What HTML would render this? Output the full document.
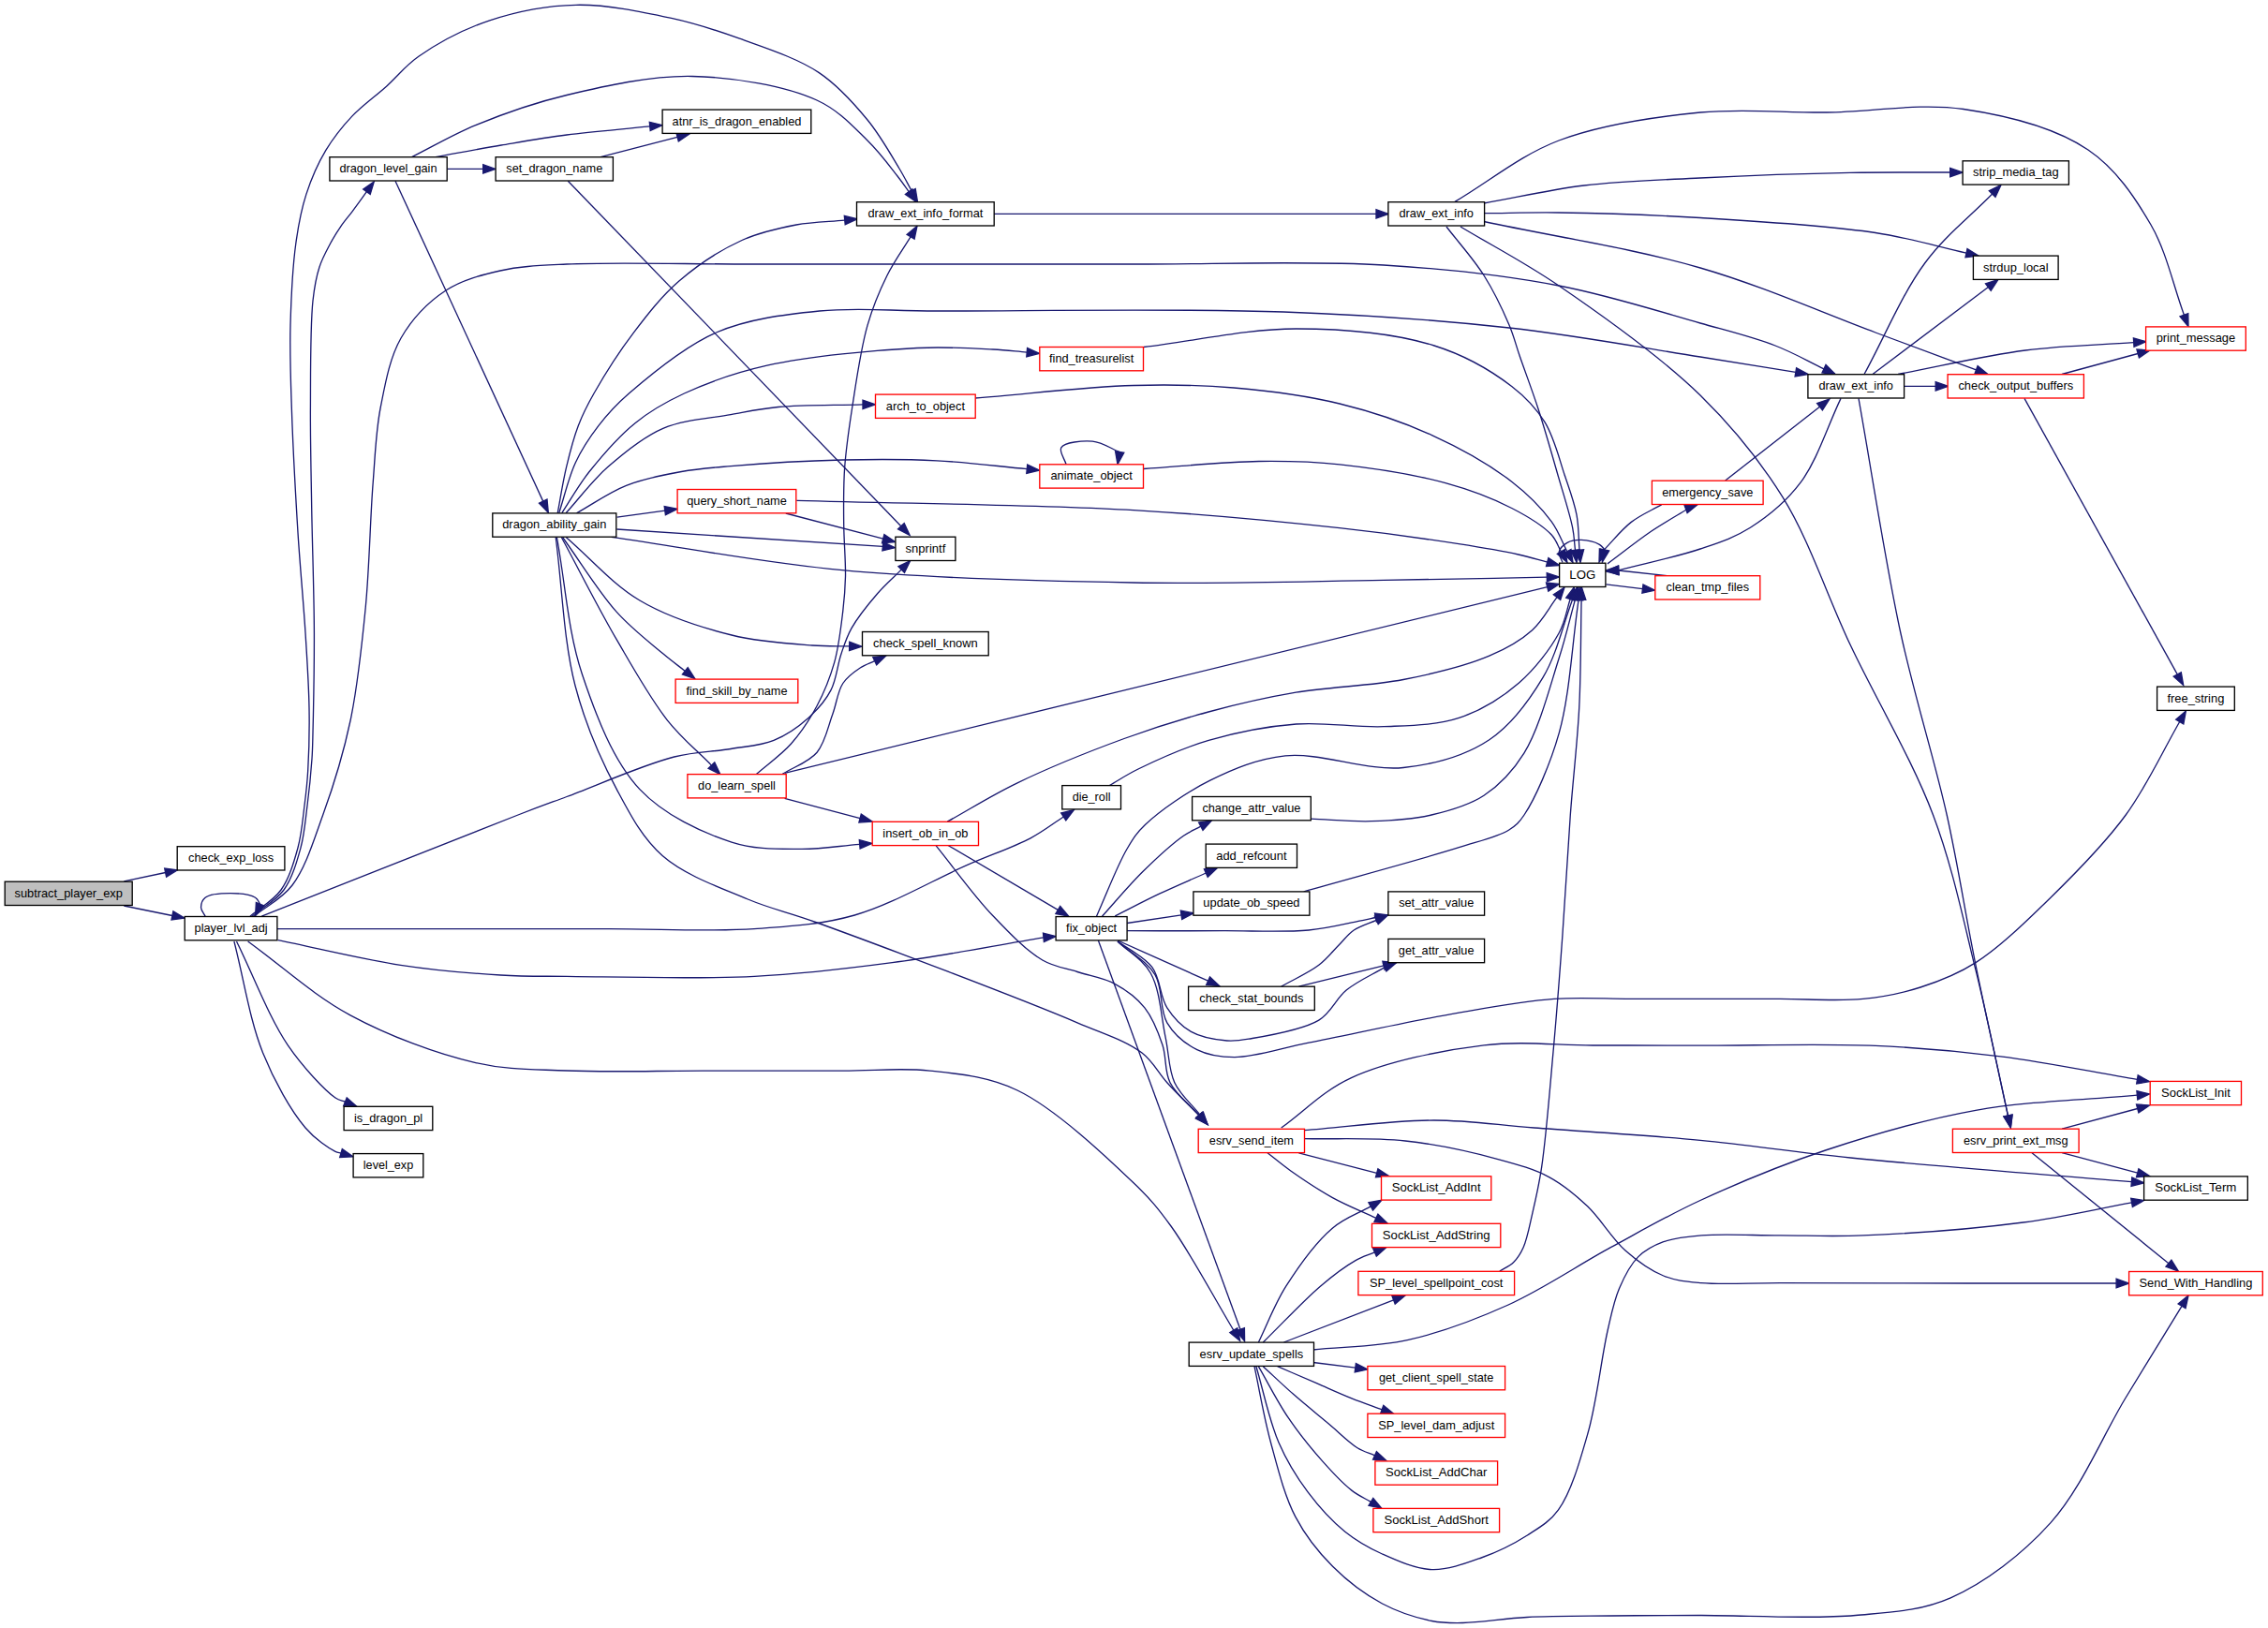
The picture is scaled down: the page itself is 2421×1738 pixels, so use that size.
<!DOCTYPE html>
<html><head><meta charset="utf-8"><title>subtract_player_exp</title>
<style>
html,body{margin:0;padding:0;background:#fff}
body{width:2421px;height:1738px;overflow:hidden}
svg{display:block}
.e path{fill:none;stroke:#191970;stroke-width:1.33}
.e polygon{fill:#191970;stroke:#191970;stroke-width:1.33;stroke-linejoin:miter}
.n rect{stroke-width:1.33}
.n text{font-family:"Liberation Sans",sans-serif;font-size:13.33px;text-anchor:middle;fill:#000}
</style></head><body>
<svg xmlns="http://www.w3.org/2000/svg" width="2421" height="1738" viewBox="0 0 2421 1738">
<rect width="2421" height="1738" fill="#fff"/>
<g class="e">
<path d="M132.3,940.8L176.7,931.5"/><polygon points="189.7,928.8 177.6,936.1 175.7,927"/>
<path d="M132.3,967L183.9,977.5"/><polygon points="197,980.1 183,982 184.9,972.9"/>
<path d="M219.1,978.2C217.6,975.1 214.7,972.1 214.6,968.9C214.5,965.5 215.9,960.8 219.1,958.2C224,954.3 237,953.6 245.9,953.6C254.8,953.6 267.5,955 272.6,958.2C275.5,960 276,962.9 277.7,965.3"/><polygon points="272.6,977.6 273.4,963.5 282,967.1"/>
<path d="M267,978.2C278,968.8 291.6,961.7 300,950C308.9,937.6 313.8,920.2 318,905C322,890.2 323.2,874.3 325,860C326.7,847 327.9,836.8 328.7,822.5C329.8,803.4 330.4,779 330,755.7C329.6,730.2 327.8,704.1 326,675.5C323.9,642.4 320.4,606.2 318,568.6C315.4,526.6 312.6,474.9 311.3,435C310.2,402.6 309.2,376.2 310,347C310.8,317.9 312.3,285.3 315.8,260C318.5,240.2 321.5,224.1 326.9,207.4C332.2,191.1 339.2,174.9 347.7,160.7C355.8,147.2 365.3,135.2 376,123.9C387,112.3 400.8,102.7 412.8,91.9C424.5,81.4 432.6,70.1 447.2,60C466.8,46.4 495.6,30.9 522.7,21.8C551.3,12.3 583.4,5.9 614.9,5.3C647.9,4.6 685.8,12.7 716.7,19.4C743.2,25.2 764.6,32.2 789.5,41.2C817,51.2 850.7,61.8 874.3,77.6C895.2,91.6 911.4,110.2 926,128C939.6,144.5 951.5,165.9 960,180C965.6,189.3 968.7,195.8 973.1,203.7"/><polygon points="979.5,215.4 969,206 977.2,201.5"/>
<path d="M269,978.2C280.3,968.8 294.4,961.8 303,950C312,937.6 316.8,920.2 321,905C325,890.2 326,875.4 328,860C330.1,843.8 332,824.2 333,810C333.7,799.5 333.7,794.6 334,782.4C334.6,758.4 335.5,713.1 335.4,675.5C335.3,633.4 333.4,584 332.7,541.9C332.1,504.3 331.2,471.2 331.4,435C331.6,397.6 331.1,348.3 334,321C335.7,305.5 337.5,295.7 341,285C344,275.7 348.6,267.6 352.6,260C356.2,253.3 359.7,247.6 363.7,241.8C367.6,236.2 371.7,231.5 376,225.8C380.9,219.3 386.3,211.7 391.4,204.7"/><polygon points="399.3,193.9 395.2,207.4 387.7,201.9"/>
<path d="M271,978.2C284.7,967.1 300.5,960.1 312,945C326.3,926.2 334.9,897.2 344.7,870C355.9,839.2 366.6,804.4 374.1,769C382.1,731 386.2,690 390.2,648.8C394.4,605.5 395.1,554.1 398.2,515.2C400.6,485 401.1,461 406.2,435C411.2,409.6 415.9,382.2 428,361C439.6,340.8 457.6,322.1 476,310C493.2,298.7 513.4,293.7 534,289C556.2,284 575.4,283.5 605,282C653.9,279.6 734.6,282 800,282C866.2,282 932.5,282 1000,282C1069.1,282 1135.8,281.9 1210,282C1293.7,282.2 1396,278.1 1477,283C1545,287.1 1605.4,293.8 1664,305C1717.4,315.2 1772.7,333 1815,345C1845.9,353.7 1871.5,359.9 1895,369C1914.5,376.5 1929.6,385.5 1947,393.8"/><polygon points="1959,399.5 1945,398 1949,389.5"/>
<path d="M279.3,978.2C370.5,942.1 497.6,891.4 553,870C577.1,860.7 584.3,858.2 605,850.5C635.8,839 687.2,816.2 719.7,808C742.6,802.2 761.3,802.7 780,799.5C796.4,796.7 812,796 826,790.3C839.6,784.8 852.5,775.7 862.9,766.4C872.6,757.7 881.1,748.1 886.9,736.9C892.9,725.4 893.9,709.9 897.9,698.2C901.3,688.1 903.7,680.1 909,670.6C915.7,658.8 927.2,644.6 936.6,633.7C944.9,624.1 953.6,616.7 962.2,608.1"/><polygon points="971.6,598.7 965.5,611.4 958.9,604.8"/>
<path d="M296,991.6C347.3,991.6 395.3,991.6 450,991.6C512.3,991.6 587.6,991.6 650,991.6C705,991.6 758.2,994.8 805,991.6C844.1,988.9 876.3,987.3 912.3,977C952.1,965.7 998.2,938.4 1032.6,923.4C1058.2,912.2 1081.5,904.6 1100,894.8C1114,887.4 1123.5,879.6 1135.2,872"/><polygon points="1146.4,864.7 1137.8,875.9 1132.7,868"/>
<path d="M296.6,1003.6C340.3,1012.5 386,1024 427.6,1030.3C464.9,1036 502.5,1039.1 534.5,1041C560.4,1042.6 575.5,1042.1 605,1042.4C654.7,1042.9 743.8,1045.5 805.4,1042.4C858.3,1039.8 902.4,1034.3 952.4,1027.7C1005.1,1020.7 1060.1,1009.8 1113.9,1000.9"/><polygon points="1127.2,999.6 1114.4,1005.5 1113.5,996.2"/>
<path d="M264.6,1005C301.1,1031.3 334.2,1062.4 374,1083.8C415,1105.9 466.1,1125.1 507.8,1134.6C542.2,1142.5 569.3,1141.4 605,1143C648.5,1144.9 701.3,1143.1 750,1143.1C799.6,1143.1 856,1143.1 900,1143.1C934.5,1143.1 961.8,1139.7 992.5,1143.1C1023.8,1146.6 1054.4,1148.9 1086,1164C1126.6,1183.4 1180.9,1234.9 1210,1262.8C1228.1,1280.1 1235.9,1289.5 1250,1309C1270.6,1337.4 1294.6,1383.1 1316.8,1420.1"/><polygon points="1323.7,1431.5 1312.8,1422.5 1320.8,1417.7"/>
<path d="M252.5,1005C270.8,1042 287.2,1086.3 307.3,1115.9C323.1,1139.1 346.8,1164.1 358,1172C362.3,1175 365,1174.8 368.5,1176.3"/><polygon points="380.8,1181.3 366.7,1180.6 370.2,1171.9"/>
<path d="M249.9,1005C260.1,1044.6 266.5,1089 280.6,1123.9C292.8,1154.1 310.3,1185.7 326,1204C336.4,1216.2 351.3,1226 358,1229.4C360.6,1230.7 362,1230.5 364,1231.1"/><polygon points="376.8,1234.8 362.7,1235.6 365.3,1226.6"/>
<path d="M477.5,180.4L515.7,180.4"/><polygon points="529,180.4 515.7,185.1 515.7,175.7"/>
<path d="M439.6,167.6C462.3,156.3 482.6,144 507.7,133.6C536.9,121.6 569.6,109.9 605,101.5C645.7,91.8 694.5,80.6 739,81.5C783.5,82.4 838.8,91.7 872,107C895.7,117.9 910.9,135.3 926,150C938.8,162.4 950,177.8 958,188C963.2,194.6 966.1,199.1 970.1,204.6"/><polygon points="978,215.4 966.4,207.4 973.9,201.9"/>
<path d="M465,167.6C488.3,163.4 511.6,158.9 535,155C558.3,151.1 580.2,147.2 605,144C632.8,140.4 664.2,138 693.7,134.9"/><polygon points="707,133.6 694.2,139.6 693.3,130.3"/>
<path d="M422,193.2L579.7,535.1"/><polygon points="585.3,547.2 575.5,537.1 584,533.1"/>
<path d="M641,167.6L723.1,146.3"/><polygon points="736,143 724.3,150.9 721.9,141.8"/>
<path d="M606.3,193.2L961.8,561.7"/><polygon points="971.1,571.3 958.5,564.9 965.2,558.5"/>
<path d="M595.2,547.8C598.3,531.4 600.8,514.5 604.6,498.6C608.2,483.4 612.1,468 617.3,454.4C622.1,442 626.6,433 634,420C644.5,401.5 661,375.3 676.4,355.1C691.4,335.4 706.2,316.2 724.9,300C744.5,283.1 769.7,266.6 792,256.5C811.4,247.7 831.1,243.6 850,240C867.6,236.7 884.5,236.7 901.7,235.1"/><polygon points="915,233.8 902.2,239.7 901.3,230.4"/>
<path d="M596.7,547.8C602.6,529.8 606.8,509.9 614.4,493.7C621.2,479.1 629.6,466.6 639,454.4C648.5,442 657,432.5 671.4,420C693.7,400.7 730.5,369.7 764.5,355C798.3,340.4 836.7,335.9 874.8,332C915,327.9 947.2,331.9 1000,332C1090.7,332.1 1259.9,329 1370,333C1459,336.3 1534.2,341.5 1611,350C1682,357.9 1758.7,372.2 1815,381C1854.8,387.2 1882.9,391.9 1916.8,397.4"/><polygon points="1930,399.5 1916.1,402 1917.6,392.8"/>
<path d="M599.7,547.8C609.5,533 617.3,518.4 629.1,503.5C642.8,486.3 660.6,465.6 678.3,451.4C694.6,438.3 710.2,429.4 730.4,420C755.5,408.4 784.5,397.9 818.8,390.2C863.9,380.1 934.7,373.7 979.1,371.5C1010.6,370 1038.4,371.9 1060,373C1074.5,373.8 1084.1,375.1 1096.2,376.1"/><polygon points="1109.5,377.3 1095.8,380.8 1096.6,371.5"/>
<path d="M604.1,547.8C619,531.4 631.9,513.4 648.8,498.6C666.3,483.1 686.1,466.6 707.8,457.3C729.8,447.9 758,446.6 780,442.6C798.4,439.3 811.3,436.3 830.7,434.5C856.4,432.1 890.9,432.7 921,431.8"/><polygon points="934.3,431.8 921,436.5 921,427.1"/>
<path d="M615.4,547.8C633.1,538 649.8,525.7 668.5,518.3C687.2,510.9 708.2,507 727.4,503.5C745.3,500.3 758.9,499.4 780,497.6C811.7,494.9 860.9,491.9 899,491C934,490.2 966.8,490.1 1000,491.8C1032.5,493.4 1064.2,497.7 1096.2,500.7"/><polygon points="1109.5,502 1095.8,505.4 1096.7,496.1"/>
<path d="M658.6,552.2L709.8,545.1"/><polygon points="723,543.3 710.4,549.8 709.2,540.5"/>
<path d="M658.4,565L942.3,583.4"/><polygon points="955.6,584.7 941.9,588 942.8,578.7"/>
<path d="M652.7,573.3C734.8,585.1 811.9,600.6 899,608.7C996.4,617.8 1110.3,620.4 1210,622C1302.4,623.5 1397.5,620.5 1477,619.4C1541.3,618.5 1593.2,617.3 1651.3,616.2"/><polygon points="1664.6,616 1651.4,620.9 1651.2,611.6"/>
<path d="M604.2,573.5C630.4,596 653.5,623.6 682.9,641C712.4,658.5 748.9,670 781,678C810.2,685.3 843.8,687.3 867,689C882.7,690.2 893.4,689.6 906.7,689.9"/><polygon points="920,690.2 906.6,694.6 906.8,685.2"/>
<path d="M600.5,573.5C619.8,600.1 638.6,631.5 658.3,653.4C674.4,671.3 693.8,686.1 707.4,697.6C716.6,705.4 723.3,710.1 731.3,716.4"/><polygon points="741.8,724.6 728.4,720 734.2,712.7"/>
<path d="M599.3,573.5C619,610 638.5,648.9 658.3,682.9C676.2,713.6 693.6,745.1 712.3,768.8C727.6,788.2 743.8,801 759.5,817.1"/><polygon points="768.8,826.6 756.1,820.3 762.8,813.8"/>
<path d="M594.4,573.5C603.4,622.2 606.1,674.1 621.4,719.7C636.1,763.6 654.3,812.2 682.9,842.6C708.9,870.2 749.6,889 781,899.1C806.4,907.3 831.2,906.2 854.8,906.4C876.6,906.6 896.7,903 917.7,901.4"/><polygon points="931,900.3 918.1,906 917.3,896.7"/>
<path d="M593.2,573.5C600.1,626.3 601.6,684.6 614,732C624.7,772.9 641.1,810.6 658.3,842.6C672.9,869.9 685.5,894.6 707.4,913.8C731.2,934.6 769.1,947.7 798.3,960C823.8,970.7 839.9,973.3 872.2,985C935.4,1007.8 1088.8,1065.8 1150,1091.8C1180.9,1104.9 1202,1111 1218.7,1123.8C1231.1,1133.3 1236.1,1145 1245.8,1155.7C1256.3,1167.3 1268.4,1179.1 1279.7,1190.8"/><polygon points="1289,1200.4 1276.4,1194.1 1283.1,1187.6"/>
<path d="M838.8,548L942.7,575.1"/><polygon points="955.6,578.5 941.5,579.7 943.9,570.6"/>
<path d="M850.3,534.4C970.2,537.8 1104.8,538.5 1210,544.6C1292.4,549.3 1366.7,556.7 1430,563.7C1478.2,569 1522.1,575.2 1557.2,580.7C1582.1,584.6 1603.4,588.2 1620.8,592C1633,594.7 1641.4,597.4 1651.7,600.1"/><polygon points="1664.6,603.5 1650.5,604.6 1652.9,595.6"/>
<path d="M1221,370.5C1275.3,364 1331.1,350.9 1384,351C1434.3,351.1 1490,356.2 1531,369C1563.6,379.2 1592.9,396.5 1613.7,412.5C1629.2,424.4 1639.7,435.7 1649,450.7C1659,466.9 1664.3,489.6 1670.2,507.2C1675.3,522.3 1680.4,535.8 1683,549.6C1685.4,562.4 1685,574.7 1686,587.2"/><polygon points="1687,600.5 1681.3,587.6 1690.6,586.8"/>
<path d="M1041,425C1097.3,420.5 1160,412.9 1210,411.5C1249.7,410.4 1280.9,410.9 1317,414C1354.3,417.2 1394,422.2 1430,431C1464.5,439.4 1497.9,450.6 1529,464.8C1559.1,478.5 1591.2,496.8 1613.7,514.2C1631.3,527.8 1645.8,542.7 1656,556.6C1664,567.4 1667.2,578 1672.8,588.7"/><polygon points="1679,600.5 1668.7,590.9 1677,586.5"/>
<path d="M1138.1,495.7C1136.3,489.7 1130.3,481.9 1132.8,477.8C1136.2,472.2 1155.6,470.2 1166.2,471.1C1176.4,472 1185.6,478.7 1195.2,482.6"/><polygon points="1193,495.7 1190.6,481.8 1199.8,483.3"/>
<path d="M1220.7,500.5C1261.7,497.8 1306.2,493 1343.6,492.5C1374.9,492.1 1399.4,492.6 1430,495.9C1465.3,499.7 1510.1,506.7 1543,515.7C1569.7,523 1593.6,532.2 1613.7,542.5C1630.2,551 1647.2,561.4 1656,570.8C1661.6,576.8 1662.9,582.9 1666.4,588.9"/><polygon points="1673,600.5 1662.3,591.3 1670.4,586.6"/>
<path d="M807.6,826.3C819.9,815.5 833.7,806.1 844.5,794C855.2,781.9 864.4,767.9 872.1,753.5C879.8,739 886,723.7 890.6,707.4C895.5,690.1 897.8,668.7 899.8,652.1C901.4,638.6 902.2,628.8 902.5,615.3C902.8,598.7 900.9,578.8 900.7,560C900.5,540.4 900.2,520.4 901.6,500C903.1,478.7 906.1,458.2 909.7,435C913.9,407.9 918.7,372.7 926,347.4C931.8,327.1 938.9,310.3 947,294C954.4,279 963.7,266.5 972.1,252.7"/><polygon points="979,241.3 976.1,255.1 968.1,250.3"/>
<path d="M835.3,826.3C847.6,818.6 863.2,813.8 872.1,803.2C881,792.6 883.9,775.6 888.7,762.7C893,751.2 894.1,738.1 899.8,729.5C904.6,722.3 912,717.1 918.2,713C923.3,709.6 928.6,708.1 933.7,705.7"/><polygon points="945.8,700 935.7,709.9 931.8,701.5"/>
<path d="M837.6,825.4L1651.7,626.7"/><polygon points="1664.6,623.5 1652.8,631.2 1650.5,622.1"/>
<path d="M837.6,852.4L918.1,873.6"/><polygon points="931,877 916.9,878.1 919.3,869.1"/>
<path d="M1011.2,877.2C1036.1,863.4 1058,849.3 1086,835.8C1119.6,819.6 1164,801.7 1200,788.5C1231.5,777 1259.5,768.2 1290,760C1320.7,751.7 1350.5,744.8 1383.4,739.2C1419.5,733 1462.2,732.5 1498,725.5C1530.6,719.1 1565,710.8 1589.8,700.2C1608.3,692.3 1623.3,683.8 1635.6,672.7C1646.8,662.6 1653.2,649.3 1662,637.7"/><polygon points="1670,627 1665.7,640.5 1658.3,634.8"/>
<path d="M1011.2,902L1129.3,971.4"/><polygon points="1140.8,978.2 1126.9,975.5 1131.7,967.4"/>
<path d="M999.2,902.9C1019.2,927.6 1039,955.7 1059.3,977C1076.9,995.5 1095.6,1015 1112.8,1025C1125.5,1032.4 1137.4,1033.4 1150,1037.5C1163.1,1041.8 1178,1043.8 1190,1050.3C1201.9,1056.7 1213.5,1065.2 1221.9,1075.8C1230.7,1086.8 1236.5,1102.2 1241,1115.8C1245.3,1128.8 1242.9,1143.6 1249,1155.7C1255.5,1168.7 1269.7,1178.9 1280.1,1190.5"/><polygon points="1289,1200.4 1276.6,1193.6 1283.6,1187.4"/>
<path d="M1184.3,838.5C1194.5,832.7 1202.3,827.2 1215,821C1234.3,811.6 1263.3,798.3 1290.2,790.4C1319.3,781.9 1352.4,775.4 1383.7,773C1414.7,770.6 1447.3,777 1477.2,775.7C1505,774.5 1532.9,774.6 1557.4,766.4C1580.9,758.6 1603.5,744.6 1621.5,729C1638.8,714 1655.2,692.3 1664.3,675.5C1671.1,663 1672.2,651.6 1676.1,639.7"/><polygon points="1680.3,627 1680.6,641.1 1671.7,638.2"/>
<path d="M1170.5,978.2C1181.4,954.1 1192.7,923.6 1203.2,906C1209.9,894.7 1213.3,889.1 1222.9,880C1238.2,865.5 1267,845.4 1291.7,833.2C1316.6,820.9 1341.8,810.2 1372,806.9C1408.9,802.9 1459.7,823.6 1498,819.5C1531.4,815.9 1564.6,806.4 1589.8,789.7C1613.8,773.7 1632.3,748.1 1647.1,723.2C1662,698.1 1668.2,667.4 1678.8,639.5"/><polygon points="1683.5,627 1683.2,641.1 1674.4,637.8"/>
<path d="M1176.5,978.2C1191.1,962.1 1205.4,944.7 1220.4,930C1234.4,916.2 1251.7,900.4 1263.4,892.2C1270.5,887.3 1275.7,885.6 1281.8,882.2"/><polygon points="1293.5,875.9 1284,886.4 1279.6,878.1"/>
<path d="M1190.3,977.9C1206.1,970 1221.5,961.8 1237.6,954.2C1253.9,946.5 1270.8,939.4 1287.3,932"/><polygon points="1299.5,926.6 1289.2,936.3 1285.4,927.8"/>
<path d="M1203.2,985.5L1261,976.8"/><polygon points="1274.2,974.8 1261.7,981.4 1260.3,972.2"/>
<path d="M1203.2,993.7C1237.6,993.7 1273.1,993.8 1306.4,993.7C1337.6,993.6 1370.9,995.4 1397,993C1417.1,991.1 1436.9,986 1450,983.4C1457.7,981.9 1462.3,980.8 1468.5,979.5"/><polygon points="1481.5,976.8 1469.4,984.1 1467.5,975"/>
<path d="M1193.1,1004L1289.6,1047.2"/><polygon points="1301.8,1052.7 1287.7,1051.5 1291.5,1043"/>
<path d="M1172.4,1004L1324,1419.3"/><polygon points="1328.6,1431.8 1319.6,1420.9 1328.4,1417.7"/>
<path d="M1193,1004.9C1205.3,1014.2 1221.1,1020.9 1229.9,1032.7C1238.7,1044.5 1238.2,1064 1245.8,1075.8C1252.5,1086.3 1261.1,1095.5 1271.4,1101.4C1282.2,1107.5 1298.5,1110.1 1309.7,1111C1318.3,1111.7 1323.1,1110.9 1332.9,1109.2C1350.9,1106.1 1389.6,1100.1 1407.8,1089.1C1421.4,1080.8 1425.8,1066.3 1437.2,1057C1449.1,1047.3 1464.5,1040.7 1478.2,1032.6"/><polygon points="1490.6,1027.7 1479.9,1036.9 1476.5,1028.3"/>
<path d="M1193,1004.9C1206.3,1016.8 1224.2,1026.1 1233,1040.7C1241.7,1055.1 1237.6,1078.1 1245.8,1091.8C1253.2,1104.2 1265.6,1114.5 1277.8,1120.6C1289.7,1126.6 1302.1,1128.6 1317.7,1128.6C1339.7,1128.7 1366,1119.3 1397.1,1113.2C1441.3,1104.5 1509.9,1089.3 1557.4,1081.1C1595,1074.6 1627,1068.7 1659,1066.4C1687.5,1064.4 1713.5,1066.4 1740,1066.4C1765.5,1066.4 1789.2,1066.4 1815,1066.4C1842.4,1066.4 1871.4,1066.4 1900,1066.4C1929.3,1066.4 1962,1069.1 1988.7,1066.4C2011.1,1064.2 2030.1,1060.4 2050,1054C2070.2,1047.5 2088.8,1040.5 2109,1027.6C2134.8,1011.1 2163,983.6 2189,958.2C2216.5,931.3 2246.1,901.6 2269.2,870C2291.9,839 2307.6,803.7 2326.7,770.5"/><polygon points="2333.4,759 2330.8,772.9 2322.7,768.2"/>
<path d="M1193,1004.9C1204.8,1016.3 1219.9,1024.1 1228.3,1039C1238.4,1056.9 1239.7,1086.9 1244.2,1107.8C1247.9,1125.2 1247.4,1141.7 1253.8,1155.7C1259.9,1168.9 1271.8,1178.5 1280.8,1189.9"/><polygon points="1289,1200.4 1277.1,1192.8 1284.4,1187"/>
<path d="M1399.3,874.2C1420.8,875 1442.4,877.4 1463.9,876.7C1485.3,876 1507.6,874.8 1528,870C1547.6,865.4 1567.6,860 1584,849.2C1600.7,838.1 1614.8,823.5 1627,803.8C1643.1,777.9 1654.7,732.1 1664.3,702.2C1671.7,679.1 1675.7,660.6 1681.5,639.9"/><polygon points="1685,627 1686,641.1 1677,638.6"/>
<path d="M1391.7,951.8C1446.9,936.1 1517.5,917.3 1557.4,904.7C1580.2,897.5 1598.7,893.6 1610.8,886C1618.5,881.2 1621.4,878.3 1627,870C1638.5,853.1 1654.9,815.8 1664.3,782.4C1675.8,741.4 1678.1,687.6 1685.1,640.2"/><polygon points="1687,627 1689.7,640.9 1680.5,639.5"/>
<path d="M1367.7,1053.1C1381.1,1045.5 1397,1038.6 1407.8,1030.3C1416.6,1023.6 1422.5,1015.6 1429.1,1009C1434.8,1003.3 1438.8,997.3 1445.2,993C1452.1,988.3 1461.3,985.9 1469.3,982.4"/><polygon points="1481.5,977 1471.2,986.6 1467.4,978.1"/>
<path d="M1386.4,1053.1L1477.1,1030.9"/><polygon points="1490,1027.7 1478.2,1035.4 1475.9,1026.3"/>
<path d="M1367.7,1204C1392.6,1186.2 1412,1164.6 1442.5,1150.6C1480.9,1133 1538.9,1121.3 1584.1,1115.9C1624.4,1111.1 1661.4,1115.9 1700,1116C1738.4,1116 1772,1116.1 1815,1116.2C1869.8,1116.3 1944.9,1113.9 2002,1116.4C2050.3,1118.5 2090.2,1122 2135.6,1127.8C2183.3,1133.8 2232.8,1144.2 2281.5,1152.4"/><polygon points="2294.6,1154.6 2280.7,1157 2282.2,1147.8"/>
<path d="M1391.7,1206.7C1438,1203.1 1487.4,1196 1530.7,1196C1568.7,1196 1597.5,1201 1637.6,1204C1689.3,1207.9 1757.4,1211.9 1815,1217.4C1869.8,1222.7 1913.5,1229.8 1975.3,1236C2059.7,1244.5 2175.4,1253.1 2275.4,1261.7"/><polygon points="2288.7,1262.8 2275,1266.3 2275.8,1257"/>
<path d="M1391.7,1215.6C1427.8,1216.4 1464.8,1214.2 1500,1218C1534.2,1221.7 1572,1230.1 1600,1237.8C1621,1243.5 1637.9,1248.1 1654,1256.8C1669.2,1265 1681.7,1275.6 1694.6,1287.8C1708.8,1301.3 1720.6,1322.2 1735,1335C1747.8,1346.3 1761.6,1356.3 1775.7,1362C1788.7,1367.3 1800,1368.1 1816,1369.6C1838.8,1371.7 1866,1369.6 1900,1369.6C1952.4,1369.7 2037.1,1369.9 2100,1370C2156.1,1370.1 2206,1370 2259.1,1370"/><polygon points="2272.4,1370 2259.1,1374.7 2259.1,1365.3"/>
<path d="M1386.4,1230.8L1469.7,1252.3"/><polygon points="1482.6,1255.6 1468.5,1256.8 1470.9,1247.8"/>
<path d="M1353,1230.8C1361.3,1237.2 1368.2,1243.2 1377.8,1250C1390.3,1258.8 1406.8,1269.9 1422,1278.3C1437.1,1286.7 1453.3,1293 1468.9,1300.3"/><polygon points="1481,1306 1466.9,1304.6 1470.9,1296.1"/>
<path d="M1343.4,1433C1353.2,1413 1360.5,1392.4 1372.9,1372.9C1386.3,1351.8 1404.9,1326 1422,1311.4C1435.3,1300 1449.5,1295.7 1463.2,1287.9"/><polygon points="1474.8,1281.3 1465.5,1292 1460.9,1283.8"/>
<path d="M1348.3,1433C1368.8,1413 1391.3,1388.5 1409.7,1372.9C1423.1,1361.5 1435.7,1352 1446.6,1345.8C1454.2,1341.4 1460.5,1339.9 1467.4,1336.9"/><polygon points="1479.7,1331.7 1469.3,1341.2 1465.6,1332.6"/>
<path d="M1370.4,1433L1487.6,1387.8"/><polygon points="1500,1383 1489.2,1392.2 1485.9,1383.4"/>
<path d="M1401.5,1441C1435.5,1437.5 1469.5,1438 1503.4,1430.4C1539,1422.4 1575,1408.8 1610.1,1393C1647.1,1376.3 1684.1,1350.9 1719.4,1331.7C1752.2,1313.9 1780,1297.6 1815,1281.5C1855.4,1262.9 1901.5,1243.6 1948.6,1228C1999.1,1211.2 2054.2,1195.1 2109,1185.3C2165,1175.3 2223.9,1174.6 2281.3,1169.2"/><polygon points="2294.6,1168 2281.8,1173.9 2280.9,1164.6"/>
<path d="M1401.7,1454.5L1446.8,1460.2"/><polygon points="1460,1461.9 1446.2,1464.9 1447.4,1455.6"/>
<path d="M1363.6,1458.7C1377.7,1464.8 1392.4,1471 1406,1476.9C1418.7,1482.4 1430.9,1488 1442.9,1492.8C1454,1497.2 1464.4,1500.8 1475.2,1504.8"/><polygon points="1487.7,1509.4 1473.6,1509.1 1476.8,1500.4"/>
<path d="M1348.3,1458.7C1359.3,1468.8 1369.9,1479.1 1381.4,1489.1C1393.2,1499.5 1406.6,1510.1 1418.3,1519.9C1429,1528.9 1439.7,1539.9 1449,1545.7C1455.6,1549.8 1461.3,1551.1 1467.5,1553.8"/><polygon points="1479.7,1559.2 1465.6,1558.1 1469.4,1549.6"/>
<path d="M1343.3,1458.7C1354,1477 1363.6,1496.5 1375.3,1513.7C1386.6,1530.3 1400,1546.8 1412.1,1560.4C1422.5,1572.1 1433.2,1583.6 1442.9,1591.1C1450.1,1596.7 1456.5,1599.3 1463.4,1603.4"/><polygon points="1474.8,1610.2 1461,1607.4 1465.8,1599.3"/>
<path d="M1340.9,1458.7C1348.9,1485.8 1354.7,1516.3 1365,1540C1373.7,1560.1 1384.1,1576.9 1396.1,1592.9C1407.8,1608.5 1421.7,1623.9 1435.8,1635.2C1448.4,1645.3 1460.9,1652.4 1475.5,1659C1491.5,1666.2 1510.7,1675 1528.4,1675.6C1545.9,1676.2 1564.4,1669.1 1581.3,1663C1598.2,1656.9 1615.7,1648.3 1630,1639.2C1642.7,1631 1653.9,1625.1 1663.5,1611.8C1677.2,1592.9 1686.5,1559.7 1695,1530C1704.6,1496.4 1709.6,1448.4 1716.2,1420C1720.4,1401.8 1722.7,1389.1 1728.4,1375.7C1733.7,1363.3 1740.1,1350.4 1748.6,1341.9C1756.2,1334.3 1765.4,1329.5 1775.7,1325.7C1787.5,1321.4 1800.2,1320.2 1816.2,1318.9C1839,1317 1871.7,1318.9 1900,1318.9C1929.1,1318.9 1954.4,1320.3 1988.7,1318.9C2036.5,1317 2108.4,1311.7 2159.7,1305C2202.2,1299.4 2237,1290.9 2275.6,1283.9"/><polygon points="2288.7,1281.5 2276.4,1288.5 2274.7,1279.3"/>
<path d="M1339,1458.7C1344.8,1485.8 1349.2,1513.3 1356.5,1540C1363.8,1566.8 1370.9,1596.4 1382.9,1619.4C1393.6,1639.8 1407.2,1656.9 1422.6,1672.3C1438,1687.7 1457.1,1702.2 1475.5,1712C1492.5,1721 1512.6,1727.3 1528.4,1730.5C1540.5,1732.9 1548.5,1732.7 1561.5,1732.5C1580.2,1732.2 1605.6,1727.8 1630,1726.5C1657.9,1725 1689.6,1725.3 1720,1725C1751.2,1724.7 1779,1724.6 1815,1724.5C1862.6,1724.4 1932.4,1728.9 1980.7,1724.5C2018.8,1721 2049.6,1720.1 2082.2,1705.8C2119.3,1689.5 2158.6,1659.3 2189,1625.6C2221.8,1589.2 2244.3,1533 2269.2,1492C2290.5,1456.9 2309.1,1426.9 2329,1394.4"/><polygon points="2336,1383 2333,1396.8 2325.1,1391.9"/>
<path d="M1600.8,1357C1605.7,1353.9 1611.3,1351.8 1615.5,1347.7C1619.9,1343.4 1623.1,1338.4 1626.1,1331.7C1630.4,1322.2 1632.8,1308 1635.9,1294.8C1639.4,1279.7 1642.7,1265.8 1645.7,1245.7C1650.4,1214.1 1654.3,1163.9 1658,1122.9C1661.7,1082 1664.8,1041.6 1667.8,1000C1670.9,957.3 1673.2,911.9 1676.3,870C1679.2,830.7 1683.7,793.9 1685.7,755.7C1687.7,717.4 1687.3,678.8 1688.1,640.3"/><polygon points="1688.4,627 1692.8,640.4 1683.5,640.2"/>
<path d="M1061,228.4L1469,228.4"/><polygon points="1482.3,228.4 1469,233.1 1469,223.7"/>
<path d="M1553,215.4C1590,193.6 1622.7,165.8 1664,150C1709.2,132.8 1765.8,124.8 1815,120C1861,115.5 1904.1,120.5 1950,120C1997.7,119.4 2049,109.6 2096,116.5C2142,123.3 2194.6,136.7 2229,160C2258.7,180.1 2278.9,210.5 2296,240C2312.9,269.3 2319.6,304.1 2331.4,336.2"/><polygon points="2336,348.7 2327,337.8 2335.8,334.6"/>
<path d="M1584,217C1619.7,210.7 1653.9,202.5 1691,198C1730.7,193.2 1771,192.2 1815,190C1864.9,187.5 1927,185.3 1975,184.4C2014.1,183.6 2046.1,184.2 2081.7,184"/><polygon points="2095,184 2081.7,188.7 2081.7,179.4"/>
<path d="M1584,227.7C1610.7,227.5 1633.1,226.6 1664,227C1706.4,227.6 1762,229.3 1815,232.5C1874,236.1 1950,240.5 2002,248.5C2039.8,254.3 2066.7,262.9 2099,270.1"/><polygon points="2112,273 2098,274.7 2100,265.5"/>
<path d="M1584,236.5C1661,253 1742.8,265 1815,286C1881.4,305.2 1948.2,335.1 2002,355C2042.8,370.1 2073.7,381.6 2109.5,394.9"/><polygon points="2122,399.5 2107.9,399.2 2111.1,390.5"/>
<path d="M1544,242C1557.3,259.3 1572.7,276 1584,294C1594.8,311.1 1604.3,331.2 1611,347C1616.1,359.1 1617.9,367.5 1622.2,380C1627.8,396.3 1635.5,416.5 1642,436.5C1649.2,458.7 1656.6,484.9 1663,507.2C1668.7,527.1 1675.8,548.8 1678.7,563.7C1680.6,573.2 1680.5,579.4 1681.5,587.3"/><polygon points="1683,600.5 1676.8,587.8 1686.1,586.7"/>
<path d="M1559,242C1594,263 1626.6,279.5 1664,305C1710.7,336.9 1773.3,381.1 1815,422C1850.7,457 1877.5,489.6 1903.2,531.2C1931.8,577.4 1949.7,634.6 1975.3,688.8C2002.9,747.3 2040.8,809.9 2063.5,870C2084.4,925.5 2095.5,981.2 2109,1035.7C2122,1088.1 2131.9,1139.2 2143.4,1191"/><polygon points="2146.3,1204 2138.9,1192 2148,1190"/>
<path d="M1668,600.5C1666.7,596.7 1663.5,592.6 1664.2,589.1C1665,585.5 1669.3,581.4 1673,579.3C1677,577 1682.5,576.3 1687.8,576.4C1693.9,576.6 1703,578.8 1707.4,581.3C1710.2,582.9 1711.2,585.1 1713.1,587"/><polygon points="1710.4,600 1708.6,586 1717.7,587.9"/>
<path d="M1715.9,601.9C1731.4,590.4 1747.3,577.7 1762.5,567.3C1776.4,557.8 1803.8,542.5 1803.5,541.8C1803.4,541.6 1800.8,542.8 1799.5,543.3"/><polygon points="1812,538.7 1801.1,547.7 1797.9,538.9"/>
<path d="M1714.5,623.8L1753.5,628.6"/><polygon points="1766.7,630.2 1752.9,633.2 1754,623.9"/>
<path d="M1841.7,513L1942.5,434.2"/><polygon points="1953,426 1945.4,437.9 1939.6,430.5"/>
<path d="M1773.8,538.7C1763,544.9 1751.4,549.6 1741.3,557.4C1730.6,565.7 1721.6,577.5 1711.7,587.5"/><polygon points="1707,600 1707.4,585.9 1716.1,589.2"/>
<path d="M1779.5,614.6L1727.8,609"/><polygon points="1714.5,609 1727.8,604.3 1727.8,613.7"/>
<path d="M1990,399.5C2011.7,359.8 2030.2,314 2055,280.5C2076.5,251.3 2102.8,231.5 2126.7,207"/><polygon points="2136,197.5 2130,210.3 2123.3,203.8"/>
<path d="M1999,399.5L2122.4,306.5"/><polygon points="2133,298.5 2125.2,310.3 2119.5,302.8"/>
<path d="M2026,399.5C2071.3,391 2118.3,379.6 2162,374C2202,368.8 2239.1,368.4 2277.7,365.7"/><polygon points="2291,364.7 2278,370.3 2277.4,361"/>
<path d="M2032,412.3L2066.2,412.3"/><polygon points="2079.5,412.3 2066.2,417 2066.2,407.6"/>
<path d="M1984,425.4C1998.9,508.8 2012,597.6 2028.8,675.5C2043.8,744.7 2064.4,808.1 2078.2,870C2090.6,925.8 2098.1,976.9 2109,1030.3C2119.9,1083.9 2132,1137.4 2143.5,1191"/><polygon points="2146.3,1204 2138.9,1191.9 2148.1,1190"/>
<path d="M1965,425.4C1950.7,455.3 1939.9,491.3 1922,515.2C1906.7,535.6 1887.3,551.3 1868.4,563.3C1851.4,574.1 1835.3,579.1 1815,586C1789.7,594.6 1756.8,601.2 1727.8,608.8"/><polygon points="1714.5,610 1727.3,604.1 1728.2,613.4"/>
<path d="M2201,399.5L2282.1,377.5"/><polygon points="2295,374 2283.4,382 2280.9,373"/>
<path d="M2161,425.4L2324.2,719.9"/><polygon points="2330.7,731.6 2320.2,722.2 2328.3,717.7"/>
<path d="M2201.1,1205.1L2281.7,1183.5"/><polygon points="2294.6,1180 2282.9,1188 2280.5,1178.9"/>
<path d="M2201.1,1230.7L2281.7,1252.2"/><polygon points="2294.6,1255.6 2280.5,1256.7 2282.9,1247.7"/>
<path d="M2169,1230.7L2314.9,1348.7"/><polygon points="2325.3,1357.1 2312,1352.3 2317.9,1345.1"/>
</g>
<g class="n">
<rect x="5.2" y="941.2" width="136" height="25.3" fill="#bfbfbf" stroke="#000"/><text x="73.2" y="957.7" textLength="115.4" lengthAdjust="spacingAndGlyphs">subtract_player_exp</text>
<rect x="189.2" y="903.7" width="114.7" height="25.3" fill="#fff" stroke="#000"/><text x="246.6" y="920.2" textLength="91.2" lengthAdjust="spacingAndGlyphs">check_exp_loss</text>
<rect x="197.2" y="978.5" width="98.7" height="25.3" fill="#fff" stroke="#000"/><text x="246.6" y="995" textLength="78" lengthAdjust="spacingAndGlyphs">player_lvl_adj</text>
<rect x="351.9" y="167.7" width="125.3" height="25.3" fill="#fff" stroke="#000"/><text x="414.5" y="184.2" textLength="104.1" lengthAdjust="spacingAndGlyphs">dragon_level_gain</text>
<rect x="367.1" y="1181.3" width="94.7" height="25.3" fill="#fff" stroke="#000"/><text x="414.5" y="1197.8" textLength="73.2" lengthAdjust="spacingAndGlyphs">is_dragon_pl</text>
<rect x="377.1" y="1231.6" width="74.7" height="25.3" fill="#fff" stroke="#000"/><text x="414.5" y="1248.1" textLength="53.4" lengthAdjust="spacingAndGlyphs">level_exp</text>
<rect x="529.1" y="167.7" width="125.3" height="25.3" fill="#fff" stroke="#000"/><text x="591.8" y="184.2" textLength="102.9" lengthAdjust="spacingAndGlyphs">set_dragon_name</text>
<rect x="525.8" y="547.9" width="132" height="25.3" fill="#fff" stroke="#000"/><text x="591.8" y="564.4" textLength="111.1" lengthAdjust="spacingAndGlyphs">dragon_ability_gain</text>
<rect x="707.1" y="117.1" width="158.7" height="25.3" fill="#fff" stroke="#000"/><text x="786.5" y="133.6" textLength="137.8" lengthAdjust="spacingAndGlyphs">atnr_is_dragon_enabled</text>
<rect x="723.1" y="522.5" width="126.7" height="25.3" fill="#fff" stroke="#ff0000"/><text x="786.5" y="539" textLength="106.5" lengthAdjust="spacingAndGlyphs">query_short_name</text>
<rect x="721.1" y="725.1" width="130.7" height="25.3" fill="#fff" stroke="#ff0000"/><text x="786.5" y="741.6" textLength="108" lengthAdjust="spacingAndGlyphs">find_skill_by_name</text>
<rect x="733.9" y="826.6" width="105.3" height="25.3" fill="#fff" stroke="#ff0000"/><text x="786.5" y="843.1" textLength="82.9" lengthAdjust="spacingAndGlyphs">do_learn_spell</text>
<rect x="914.5" y="215.7" width="146.7" height="25.3" fill="#fff" stroke="#000"/><text x="987.9" y="232.2" textLength="122.8" lengthAdjust="spacingAndGlyphs">draw_ext_info_format</text>
<rect x="934.5" y="421.1" width="106.7" height="25.3" fill="#fff" stroke="#ff0000"/><text x="987.9" y="437.6" textLength="84.2" lengthAdjust="spacingAndGlyphs">arch_to_object</text>
<rect x="955.9" y="573.2" width="64" height="25.3" fill="#fff" stroke="#000"/><text x="987.9" y="589.7" textLength="42.8" lengthAdjust="spacingAndGlyphs">snprintf</text>
<rect x="920.5" y="674.5" width="134.7" height="25.3" fill="#fff" stroke="#000"/><text x="987.9" y="691" textLength="111.6" lengthAdjust="spacingAndGlyphs">check_spell_known</text>
<rect x="931.2" y="877.3" width="113.3" height="25.3" fill="#fff" stroke="#ff0000"/><text x="987.9" y="893.8" textLength="91.1" lengthAdjust="spacingAndGlyphs">insert_ob_in_ob</text>
<rect x="1109.8" y="370.5" width="110.7" height="25.3" fill="#fff" stroke="#ff0000"/><text x="1165.1" y="387" textLength="90.2" lengthAdjust="spacingAndGlyphs">find_treasurelist</text>
<rect x="1109.8" y="495.8" width="110.7" height="25.3" fill="#fff" stroke="#ff0000"/><text x="1165.1" y="512.3" textLength="87.3" lengthAdjust="spacingAndGlyphs">animate_object</text>
<rect x="1133.8" y="838.6" width="62.7" height="25.3" fill="#fff" stroke="#000"/><text x="1165.1" y="855.1" textLength="40.9" lengthAdjust="spacingAndGlyphs">die_roll</text>
<rect x="1127.1" y="978.6" width="76" height="25.3" fill="#fff" stroke="#000"/><text x="1165.1" y="995.1" textLength="54" lengthAdjust="spacingAndGlyphs">fix_object</text>
<rect x="1272.6" y="850.5" width="126.7" height="25.3" fill="#fff" stroke="#000"/><text x="1335.9" y="867" textLength="105" lengthAdjust="spacingAndGlyphs">change_attr_value</text>
<rect x="1287.2" y="901.1" width="97.3" height="25.3" fill="#fff" stroke="#000"/><text x="1335.9" y="917.6" textLength="75.3" lengthAdjust="spacingAndGlyphs">add_refcount</text>
<rect x="1273.9" y="951.9" width="124" height="25.3" fill="#fff" stroke="#000"/><text x="1335.9" y="968.4" textLength="103.2" lengthAdjust="spacingAndGlyphs">update_ob_speed</text>
<rect x="1268.6" y="1053.2" width="134.7" height="25.3" fill="#fff" stroke="#000"/><text x="1335.9" y="1069.7" textLength="111.1" lengthAdjust="spacingAndGlyphs">check_stat_bounds</text>
<rect x="1279.2" y="1205.3" width="113.3" height="25.3" fill="#fff" stroke="#ff0000"/><text x="1335.9" y="1221.8" textLength="90.1" lengthAdjust="spacingAndGlyphs">esrv_send_item</text>
<rect x="1269.2" y="1433.1" width="133.3" height="25.3" fill="#fff" stroke="#000"/><text x="1335.9" y="1449.6" textLength="110.6" lengthAdjust="spacingAndGlyphs">esrv_update_spells</text>
<rect x="1481.9" y="215.7" width="102.7" height="25.3" fill="#fff" stroke="#000"/><text x="1533.2" y="232.2" textLength="79.5" lengthAdjust="spacingAndGlyphs">draw_ext_info</text>
<rect x="1481.9" y="951.9" width="102.7" height="25.3" fill="#fff" stroke="#000"/><text x="1533.2" y="968.4" textLength="80.1" lengthAdjust="spacingAndGlyphs">set_attr_value</text>
<rect x="1481.9" y="1002.4" width="102.7" height="25.3" fill="#fff" stroke="#000"/><text x="1533.2" y="1018.9" textLength="80.7" lengthAdjust="spacingAndGlyphs">get_attr_value</text>
<rect x="1474.5" y="1255.8" width="117.3" height="25.3" fill="#fff" stroke="#ff0000"/><text x="1533.2" y="1272.3" textLength="94.7" lengthAdjust="spacingAndGlyphs">SockList_AddInt</text>
<rect x="1464.5" y="1306.3" width="137.3" height="25.3" fill="#fff" stroke="#ff0000"/><text x="1533.2" y="1322.8" textLength="114.7" lengthAdjust="spacingAndGlyphs">SockList_AddString</text>
<rect x="1449.9" y="1357.3" width="166.7" height="25.3" fill="#fff" stroke="#ff0000"/><text x="1533.2" y="1373.8" textLength="142.5" lengthAdjust="spacingAndGlyphs">SP_level_spellpoint_cost</text>
<rect x="1459.9" y="1458.5" width="146.7" height="25.3" fill="#fff" stroke="#ff0000"/><text x="1533.2" y="1475" textLength="122.5" lengthAdjust="spacingAndGlyphs">get_client_spell_state</text>
<rect x="1459.9" y="1509.2" width="146.7" height="25.3" fill="#fff" stroke="#ff0000"/><text x="1533.2" y="1525.7" textLength="124" lengthAdjust="spacingAndGlyphs">SP_level_dam_adjust</text>
<rect x="1467.9" y="1559.9" width="130.7" height="25.3" fill="#fff" stroke="#ff0000"/><text x="1533.2" y="1576.4" textLength="108.5" lengthAdjust="spacingAndGlyphs">SockList_AddChar</text>
<rect x="1465.9" y="1610.4" width="134.7" height="25.3" fill="#fff" stroke="#ff0000"/><text x="1533.2" y="1626.9" textLength="111.5" lengthAdjust="spacingAndGlyphs">SockList_AddShort</text>
<rect x="1664.6" y="601.2" width="49.3" height="25.3" fill="#fff" stroke="#000"/><text x="1689.3" y="617.7" textLength="27.9" lengthAdjust="spacingAndGlyphs">LOG</text>
<rect x="1763.4" y="513.2" width="118.7" height="25.3" fill="#fff" stroke="#ff0000"/><text x="1822.8" y="529.7" textLength="97.1" lengthAdjust="spacingAndGlyphs">emergency_save</text>
<rect x="1766.8" y="614.7" width="112" height="25.3" fill="#fff" stroke="#ff0000"/><text x="1822.8" y="631.2" textLength="88.4" lengthAdjust="spacingAndGlyphs">clean_tmp_files</text>
<rect x="1929.9" y="399.7" width="102.7" height="25.3" fill="#fff" stroke="#000"/><text x="1981.2" y="416.2" textLength="79.5" lengthAdjust="spacingAndGlyphs">draw_ext_info</text>
<rect x="2095.1" y="171.8" width="113.3" height="25.3" fill="#fff" stroke="#000"/><text x="2151.8" y="188.3" textLength="91.6" lengthAdjust="spacingAndGlyphs">strip_media_tag</text>
<rect x="2106.4" y="273.1" width="90.7" height="25.3" fill="#fff" stroke="#000"/><text x="2151.8" y="289.6" textLength="69.5" lengthAdjust="spacingAndGlyphs">strdup_local</text>
<rect x="2079.1" y="399.7" width="145.3" height="25.3" fill="#fff" stroke="#ff0000"/><text x="2151.8" y="416.2" textLength="122.7" lengthAdjust="spacingAndGlyphs">check_output_buffers</text>
<rect x="2084.4" y="1205.2" width="134.7" height="25.3" fill="#fff" stroke="#ff0000"/><text x="2151.8" y="1221.7" textLength="111.6" lengthAdjust="spacingAndGlyphs">esrv_print_ext_msg</text>
<rect x="2290.6" y="348.9" width="106.7" height="25.3" fill="#fff" stroke="#ff0000"/><text x="2343.9" y="365.4" textLength="84.5" lengthAdjust="spacingAndGlyphs">print_message</text>
<rect x="2302.6" y="733.1" width="82.7" height="25.3" fill="#fff" stroke="#000"/><text x="2343.9" y="749.6" textLength="60.8" lengthAdjust="spacingAndGlyphs">free_string</text>
<rect x="2295.2" y="1154.4" width="97.3" height="25.3" fill="#fff" stroke="#ff0000"/><text x="2343.9" y="1170.9" textLength="73.9" lengthAdjust="spacingAndGlyphs">SockList_Init</text>
<rect x="2288.6" y="1255.9" width="110.7" height="25.3" fill="#fff" stroke="#000"/><text x="2343.9" y="1272.4" textLength="87.1" lengthAdjust="spacingAndGlyphs">SockList_Term</text>
<rect x="2272.6" y="1357.5" width="142.7" height="25.3" fill="#fff" stroke="#ff0000"/><text x="2343.9" y="1374" textLength="120.8" lengthAdjust="spacingAndGlyphs">Send_With_Handling</text>
</g>
</svg>
</body></html>
